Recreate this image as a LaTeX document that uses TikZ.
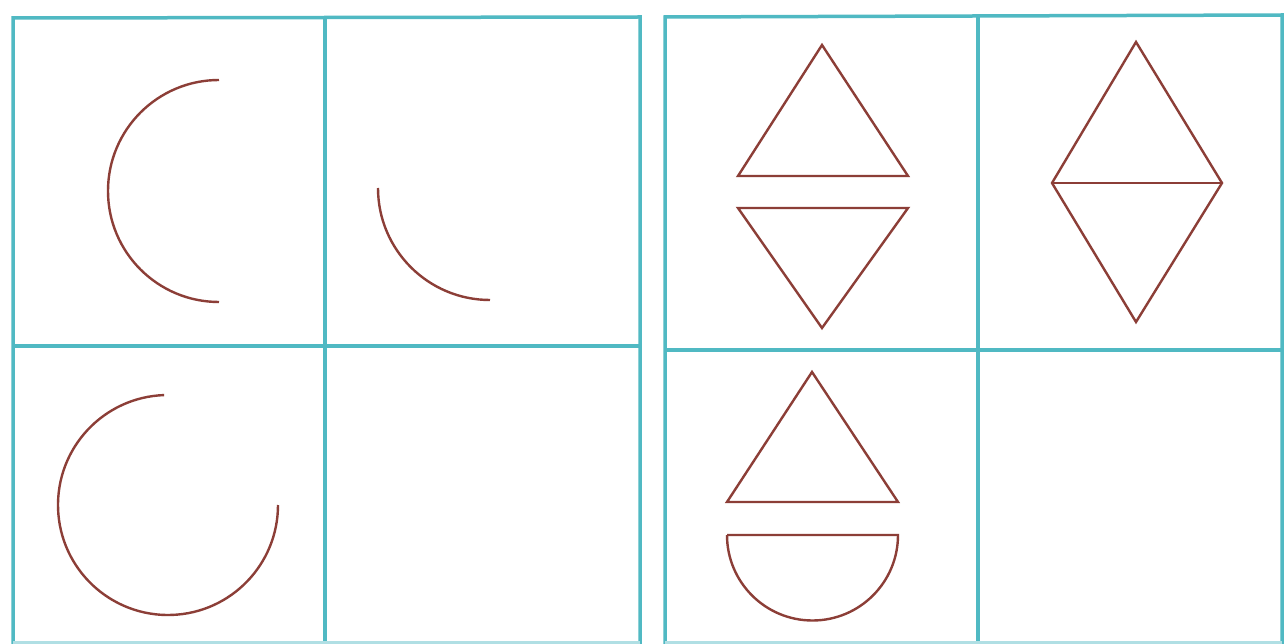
\documentclass[tikz,border=0pt]{standalone}
\definecolor{gridc}{RGB}{80,185,195}
\definecolor{shapec}{RGB}{140,62,55}
\tikzset{gridline/.style={draw=gridc,line width=3.5pt},
 figline/.style={draw=shapec,line width=2.4pt,line join=miter}}
\begin{document}
\begin{tikzpicture}[x=1pt,y=-1pt]
\useasboundingbox (0,0) rectangle (1285,644);
\fill[white] (0,0) rectangle (1285,644);
% left grid
\draw[gridline] (13,644) -- (13,18) -- (640,17) -- (640,644);
\draw[gridline] (325,17) -- (325,644);
\draw[gridline] (13,346) -- (640,346);
\draw[gridline,draw=gridc!45] (13,643) -- (640,643);
% right grid
\draw[gridline] (665,644) -- (665,17) -- (1282,15) -- (1282,644);
\draw[gridline] (978,16) -- (978,644);
\draw[gridline] (665,350) -- (1282,350);
\draw[gridline,draw=gridc!45] (665,643) -- (1282,643);
% left grid figures
\coordinate (c1) at (219,191);
\draw[figline] (c1) ++(-90:111) arc[start angle=-90,end angle=-270,radius=111];
\coordinate (c2) at (490,188);
\draw[figline] (c2) ++(180:112) arc[start angle=180,end angle=90,radius=112];
\coordinate (c3) at (168,505);
\draw[figline] (c3) ++(-92:110) arc[start angle=-92,end angle=-360,radius=110];
% right grid figures
\draw[figline] (738,176) -- (822,45) -- (908,176) -- cycle;
\draw[figline] (738,208) -- (822,328) -- (908,208) -- cycle;
\draw[figline] (1136,42) -- (1222,183) -- (1136,322) -- (1052,183) -- cycle;
\draw[figline] (1052,183) -- (1222,183);
\draw[figline] (727,502) -- (812,372) -- (898,502) -- cycle;
\coordinate (c4) at (812,535);
\draw[figline] (727,535) -- (898,535) arc[start angle=0,end angle=180,radius=85.5];
\end{tikzpicture}
\end{document}
